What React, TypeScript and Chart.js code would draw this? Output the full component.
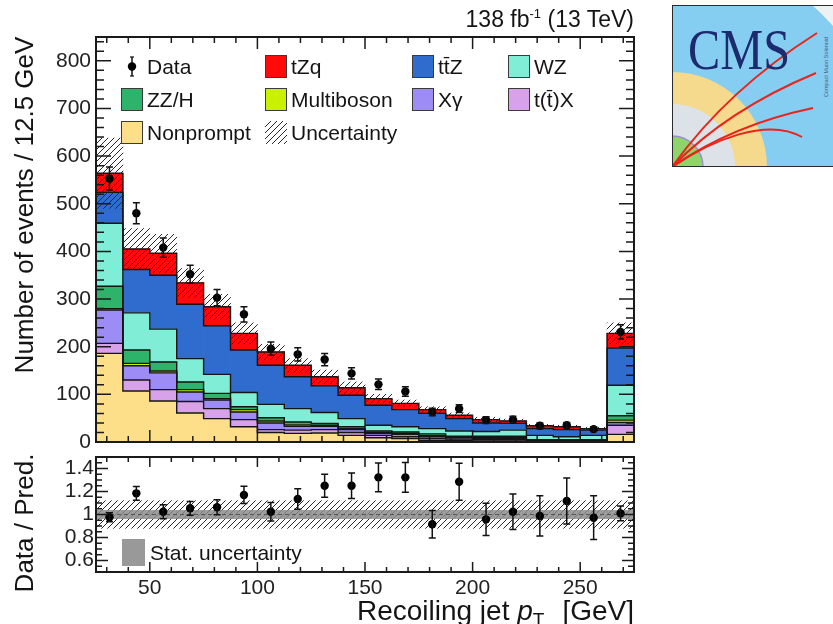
import React, { useEffect, useRef } from "react";
import { Chart, registerables, Plugin } from "chart.js";

Chart.register(...registerables);

const FONT = "'Liberation Sans', Arial, Helvetica, sans-serif";

// Recoiling jet pT binning (GeV)
const binEdges = [25, 37.5, 50, 62.5, 75, 87.5, 100, 112.5, 125, 137.5, 150, 162.5, 175, 187.5, 200, 212.5, 225, 237.5, 250, 262.5, 275];

// Predicted yields per bin, listed in stacking order (bottom first)
const nonprompt = [186, 107, 86, 61, 49, 32, 20, 18, 19, 14, 9, 7, 3, 3, 2, 2, 1, 1, 1, 16];
const ttX = [21, 23, 24, 24, 21, 15, 6, 7, 7, 6, 5, 4, 4, 3, 3, 3, 1, 1, 1, 19];
const xGamma = [70, 30, 35, 20, 18, 16, 14, 8, 7, 6, 4, 5, 4, 3, 3, 3, 1, 1, 1, 6];
const multiboson = [3, 5, 4, 5, 3, 5, 4, 3, 2, 2, 2, 2, 2, 1, 1, 1, 1, 1, 1, 5];
const zzH = [47, 28, 19, 16, 11, 6, 7, 6, 4, 4, 3, 3, 4, 2, 3, 3, 1, 1, 1, 9];
const wz = [132, 78, 69, 49, 40, 30, 28, 28, 23, 17, 12, 11, 11, 11, 10, 13, 9, 6, 9, 64];
const ttZ = [65, 91, 113, 114, 102, 89, 82, 67, 56, 49, 42, 36, 32, 26, 18, 14, 14, 15, 11, 78];
const tZq = [40, 43, 46, 45, 40, 35, 28, 24, 19, 16, 14, 13, 8, 7, 7, 5, 6, 6, 3, 31];

// Total prediction uncertainty (events, symmetric)
const predUnc = [74, 43, 40, 30, 26, 22, 16, 14, 14, 12, 9, 7, 6, 5, 5, 4, 3, 3, 3, 22];

// Observed events and their uncertainties
const dataCounts = [553, 480, 408, 352, 303, 268, 196, 184, 173, 144, 121, 106, 63, 70, 46, 47, 34, 35, 27, 231];
const dataErr = [24, 22, 20, 19, 17, 16, 14, 14, 13, 12, 11, 10, 8, 8, 7, 7, 6, 6, 5, 15];

// Data / prediction ratio
const ratioValues = [0.976, 1.184, 1.024, 1.054, 1.063, 1.17, 1.024, 1.135, 1.25, 1.25, 1.323, 1.323, 0.915, 1.285, 0.958, 1.024, 0.987, 1.117, 0.972, 1.01];
const ratioErr = [0.04, 0.06, 0.06, 0.06, 0.065, 0.075, 0.08, 0.09, 0.1, 0.11, 0.125, 0.13, 0.12, 0.16, 0.14, 0.155, 0.175, 0.2, 0.19, 0.065];
const ratioTotalBand = [0.12, 0.12, 0.12, 0.12, 0.12, 0.12, 0.12, 0.12, 0.12, 0.12, 0.12, 0.12, 0.12, 0.12, 0.12, 0.12, 0.12, 0.12, 0.12, 0.12];
const ratioStatBand = [0.036, 0.036, 0.036, 0.036, 0.036, 0.036, 0.036, 0.036, 0.036, 0.036, 0.036, 0.036, 0.036, 0.036, 0.036, 0.036, 0.036, 0.036, 0.036, 0.036];

// Axis ticks
const xTickValues = [50, 100, 150, 200, 250];
const mainYTicks = [0, 100, 200, 300, 400, 500, 600, 700, 800];
const ratioYTicks = [0.6, 0.8, 1, 1.2, 1.4];
const ratioYTickLabels = ["0.6", "0.8", "1", "1.2", "1.4"];

// Process names and colours
const processLabels = ["Nonprompt", "t(t\u0304)X", "X\u03b3", "Multiboson", "ZZ/H", "WZ", "tt\u0304Z", "tZq"];
const processColors = ["#fddf8a", "#d8a2ea", "#9d8bf6", "#c8f000", "#2db46a", "#80eed6", "#2f6ccd", "#ff0a0a"];
const processYields = [nonprompt, ttX, xGamma, multiboson, zzH, wz, ttZ, tZq];

const binCenters = binEdges.slice(0, -1).map((lo, i) => (lo + binEdges[i + 1]) / 2);

function makeHatch(color: string, size: number, lineWidth: number): CanvasPattern | string {
  const c = document.createElement("canvas");
  c.width = size;
  c.height = size;
  const g = c.getContext("2d");
  if (!g) return color;
  g.strokeStyle = color;
  g.lineWidth = lineWidth;
  g.beginPath();
  g.moveTo(0, size);
  g.lineTo(size, 0);
  g.moveTo(-1, 1);
  g.lineTo(1, -1);
  g.moveTo(size - 1, size + 1);
  g.lineTo(size + 1, size - 1);
  g.stroke();
  return g.createPattern(c, "repeat") || color;
}

type TickSpec = {
  xMajor: number[];
  xMinorStep: number;
  yMajor: number[];
  yMinorStep: number;
  xMajorLen: number;
  xMinorLen: number;
  yMajorLen: number;
  yMinorLen: number;
};

function frameTicks(spec: TickSpec): Plugin {
  return {
    id: "frameTicks",
    afterDraw(chart) {
      const { ctx, chartArea: a } = chart;
      const sx: any = chart.scales.x;
      const sy: any = chart.scales.y;
      ctx.save();
      ctx.strokeStyle = "#1a1a1a";
      ctx.lineWidth = 1.5;
      ctx.beginPath();
      const nx0 = Math.ceil(sx.min / spec.xMinorStep - 1e-9);
      const nx1 = Math.floor(sx.max / spec.xMinorStep + 1e-9);
      for (let n = nx0; n <= nx1; n++) {
        const v = n * spec.xMinorStep;
        const major = spec.xMajor.some((m) => Math.abs(m - v) < 1e-6);
        const len = major ? spec.xMajorLen : spec.xMinorLen;
        const px = sx.getPixelForValue(v);
        ctx.moveTo(px, a.bottom);
        ctx.lineTo(px, a.bottom - len);
        ctx.moveTo(px, a.top);
        ctx.lineTo(px, a.top + len);
      }
      const ny0 = Math.ceil(sy.min / spec.yMinorStep - 1e-9);
      const ny1 = Math.floor(sy.max / spec.yMinorStep + 1e-9);
      for (let n = ny0; n <= ny1; n++) {
        const v = n * spec.yMinorStep;
        const major = spec.yMajor.some((m) => Math.abs(m - v) < 1e-6);
        const len = major ? spec.yMajorLen : spec.yMinorLen;
        const py = sy.getPixelForValue(v);
        ctx.moveTo(a.left, py);
        ctx.lineTo(a.left + len, py);
        ctx.moveTo(a.right, py);
        ctx.lineTo(a.right - len, py);
      }
      ctx.stroke();
      ctx.lineWidth = 2;
      ctx.strokeRect(a.left, a.top, a.right - a.left, a.bottom - a.top);
      ctx.restore();
    },
  };
}

function errorBars(xs: number[], ys: number[], errs: number[], cap: number): Plugin {
  return {
    id: "errorBars",
    afterDatasetsDraw(chart) {
      const { ctx, chartArea: a } = chart;
      const sx: any = chart.scales.x;
      const sy: any = chart.scales.y;
      ctx.save();
      ctx.beginPath();
      ctx.rect(a.left, a.top, a.right - a.left, a.bottom - a.top);
      ctx.clip();
      ctx.strokeStyle = "#111";
      ctx.lineWidth = 1.5;
      ctx.beginPath();
      xs.forEach((x, i) => {
        const px = sx.getPixelForValue(x);
        const top = sy.getPixelForValue(ys[i] + errs[i]);
        const bot = sy.getPixelForValue(ys[i] - errs[i]);
        ctx.moveTo(px, top);
        ctx.lineTo(px, bot);
        ctx.moveTo(px - cap, top);
        ctx.lineTo(px + cap, top);
        ctx.moveTo(px - cap, bot);
        ctx.lineTo(px + cap, bot);
      });
      ctx.stroke();
      ctx.restore();
    },
  };
}

const tickFont = { family: FONT, size: 21 };

// fix a scale's thickness and drop the label overhang padding Chart.js adds
function fixSize(prop: "width" | "height", size: number) {
  return (s: any) => {
    s[prop] = size;
    s.paddingTop = 0;
    s.paddingBottom = 0;
    s.paddingLeft = 0;
    s.paddingRight = 0;
  };
}

function buildMain(canvas: HTMLCanvasElement): Chart {
  const hatch = makeHatch("#2a2a2a", 6, 1);
  const datasets: any[] = [];
  const cumulative: number[][] = [];
  let running = binCenters.map(() => 0);
  processYields.forEach((vals, k) => {
    const lo = running.slice();
    const hi = running.map((r, i) => r + vals[i]);
    cumulative.push(hi);
    datasets.push({
      type: "bar",
      label: processLabels[k],
      data: binCenters.map((c, i) => ({ x: c, y: [lo[i], hi[i]] })),
      backgroundColor: processColors[k],
      borderWidth: 0,
      grouped: false,
      barPercentage: 1,
      categoryPercentage: 1,
      order: 20,
    });
    running = hi;
  });
  // black outline of each stacked contribution
  cumulative.forEach((hi) => {
    datasets.push({
      type: "line",
      data: [...binEdges.slice(0, -1).map((e, i) => ({ x: e, y: hi[i] })), { x: binEdges[binEdges.length - 1], y: hi[hi.length - 1] }],
      borderColor: "#151515",
      borderWidth: 1.4,
      stepped: "before",
      pointRadius: 0,
      fill: false,
      order: 10,
    });
  });
  const total = running;
  datasets.push({
    type: "bar",
    label: "Uncertainty",
    data: binCenters.map((c, i) => ({ x: c, y: [total[i] - predUnc[i], total[i] + predUnc[i]] })),
    backgroundColor: hatch,
    borderWidth: 0,
    grouped: false,
    barPercentage: 1,
    categoryPercentage: 1,
    order: 5,
  });
  datasets.push({
    type: "line",
    label: "Data",
    data: binCenters.map((c, i) => ({ x: c, y: dataCounts[i] })),
    showLine: false,
    pointRadius: 4.2,
    pointBackgroundColor: "#000",
    pointBorderWidth: 0,
    order: 1,
  });

  return new Chart(canvas, {
    type: "bar",
    data: { datasets },
    options: {
      animation: false,
      responsive: false,
      devicePixelRatio: 1,
      events: [],
      layout: { padding: { left: 0, top: 37, right: 199, bottom: 8 } },
      plugins: { legend: { display: false }, tooltip: { enabled: false } },
      scales: {
        x: {
          type: "linear",
          min: binEdges[0],
          max: binEdges[binEdges.length - 1],
          offset: false,
          grid: { display: false, drawTicks: false, offset: false },
          border: { display: false },
          ticks: { display: false },
          afterFit: fixSize("height", 0),
        },
        y: {
          type: "linear",
          min: 0,
          max: 850,
          grid: { display: false, drawTicks: false },
          border: { display: false },
          ticks: { font: tickFont, color: "#222", padding: 5, autoSkip: false },
          afterBuildTicks: (s: any) => {
            s.ticks = mainYTicks.map((v) => ({ value: v }));
          },
          afterFit: fixSize("width", 96),
        },
      } as any,
    },
    plugins: [
      errorBars(binCenters, dataCounts, dataErr, 3.5),
      frameTicks({ xMajor: xTickValues, xMinorStep: 10, yMajor: mainYTicks, yMinorStep: 20, xMajorLen: 12, xMinorLen: 6, yMajorLen: 15, yMinorLen: 8 }),
    ],
  } as any);
}

function buildRatio(canvas: HTMLCanvasElement): Chart {
  const hatch = makeHatch("#2a2a2a", 6, 1);
  const datasets: any[] = [
    {
      type: "bar",
      data: binCenters.map((c, i) => ({ x: c, y: [1 - ratioTotalBand[i], 1 + ratioTotalBand[i]] })),
      backgroundColor: hatch,
      borderWidth: 0,
      grouped: false,
      barPercentage: 1,
      categoryPercentage: 1,
      order: 20,
    },
    {
      type: "bar",
      data: binCenters.map((c, i) => ({ x: c, y: [1 - ratioStatBand[i], 1 + ratioStatBand[i]] })),
      backgroundColor: "rgba(140,140,140,0.85)",
      borderWidth: 0,
      grouped: false,
      barPercentage: 1,
      categoryPercentage: 1,
      order: 15,
    },
    {
      type: "line",
      data: [
        { x: binEdges[0], y: 1 },
        { x: binEdges[binEdges.length - 1], y: 1 },
      ],
      borderColor: "#555",
      borderWidth: 1.2,
      borderDash: [4, 3],
      pointRadius: 0,
      fill: false,
      order: 10,
    },
    {
      type: "line",
      data: binCenters.map((c, i) => ({ x: c, y: ratioValues[i] })),
      showLine: false,
      pointRadius: 4.2,
      pointBackgroundColor: "#000",
      pointBorderWidth: 0,
      order: 1,
    },
  ];

  return new Chart(canvas, {
    type: "bar",
    data: { datasets },
    options: {
      animation: false,
      responsive: false,
      devicePixelRatio: 1,
      events: [],
      layout: { padding: { left: 0, top: 7, right: 199, bottom: 22 } },
      plugins: { legend: { display: false }, tooltip: { enabled: false } },
      scales: {
        x: {
          type: "linear",
          min: binEdges[0],
          max: binEdges[binEdges.length - 1],
          offset: false,
          grid: { display: false, drawTicks: false, offset: false },
          border: { display: false },
          ticks: { font: tickFont, color: "#222", padding: 4, maxRotation: 0, autoSkip: false },
          afterBuildTicks: (s: any) => {
            s.ticks = xTickValues.map((v) => ({ value: v }));
          },
          afterFit: fixSize("height", 30),
        },
        y: {
          type: "linear",
          min: 0.5,
          max: 1.5,
          grid: { display: false, drawTicks: false },
          border: { display: false },
          ticks: {
            font: tickFont,
            color: "#222",
            padding: 2,
            autoSkip: false,
            callback: (_v: any, idx: number) => ratioYTickLabels[idx],
          },
          afterBuildTicks: (s: any) => {
            s.ticks = ratioYTicks.map((v) => ({ value: v }));
          },
          afterFit: fixSize("width", 96),
        },
      } as any,
    },
    plugins: [
      errorBars(binCenters, ratioValues, ratioErr, 3.5),
      frameTicks({ xMajor: xTickValues, xMinorStep: 10, yMajor: ratioYTicks, yMinorStep: 0.05, xMajorLen: 10, xMinorLen: 5, yMajorLen: 12, yMinorLen: 6 }),
    ],
  } as any);
}

const legendCols = [121, 265, 412, 508];
const legendRows = [55, 88, 121];

function LegendBox({ left, top, color }: { left: number; top: number; color: string }) {
  return (
    <div
      style={{
        position: "absolute",
        left,
        top,
        width: 20,
        height: 21,
        background: color,
        border: "1px solid #3a3a3a",
      }}
    />
  );
}

function LegendText({ left, top, text }: { left: number; top: number; text: React.ReactNode }) {
  return (
    <div
      style={{
        position: "absolute",
        left,
        top,
        height: 23,
        lineHeight: "23px",
        fontSize: 21,
        fontFamily: FONT,
        color: "#141414",
        whiteSpace: "nowrap",
      }}
    >
      {text}
    </div>
  );
}

function RotatedTitle({ cx, cy, text, size }: { cx: number; cy: number; text: string; size: number }) {
  const w = 420;
  const h = 32;
  return (
    <div
      style={{
        position: "absolute",
        left: cx - w / 2,
        top: cy - h / 2,
        width: w,
        height: h,
        lineHeight: h + "px",
        fontSize: size,
        fontFamily: FONT,
        color: "#141414",
        textAlign: "center",
        whiteSpace: "nowrap",
        transform: "rotate(-90deg)",
      }}
    >
      {text}
    </div>
  );
}

function CmsLogo() {
  return (
    <svg style={{ position: "absolute", left: 672, top: 5 }} width={161} height={162} viewBox="0 0 161 162">
      <rect x={0} y={0} width={161} height={162} fill="#eef1f2" />
      <circle cx={0} cy={162} r={214} fill="#86cdf2" />
      <circle cx={0} cy={162} r={95} fill="#f5d98c" />
      <circle cx={0} cy={162} r={63} fill="#dde2e8" />
      <circle cx={0} cy={162} r={31} fill="#8fd46a" stroke="#a08cd0" strokeWidth={1.5} />
      <g fill="none" stroke="#e8241c" strokeWidth={2}>
        <path d="M0,162 Q55,85 145,28" />
        <path d="M0,162 Q55,105 144,68" />
        <path d="M0,162 Q60,120 141,103" />
        <path d="M0,162 C40,135 95,112 130,132" />
      </g>
      <text x={16} y={64} fontFamily="'Liberation Serif', 'DejaVu Serif', serif" fontSize={56} fill="#1c2a6e" textLength={102} lengthAdjust="spacingAndGlyphs">
        CMS
      </text>
      <text transform="translate(156,62) rotate(-90)" fontFamily={FONT} fontSize={5.5} fill="#4a5a7a" textAnchor="middle">
        Compact Muon Solenoid
      </text>
      <rect x={0.5} y={0.5} width={170} height={161} fill="none" stroke="#2a2a2a" strokeWidth={1} />
    </svg>
  );
}

export default function App() {
  const mainRef = useRef<HTMLCanvasElement>(null);
  const ratioRef = useRef<HTMLCanvasElement>(null);

  useEffect(() => {
    if (!mainRef.current || !ratioRef.current) return;
    const main = buildMain(mainRef.current);
    const ratio = buildRatio(ratioRef.current);
    return () => {
      main.destroy();
      ratio.destroy();
    };
  }, []);

  const legendItems: { col: number; row: number; label: React.ReactNode; color: string }[] = [
    { col: 1, row: 0, label: processLabels[7], color: processColors[7] },
    { col: 2, row: 0, label: processLabels[6], color: processColors[6] },
    { col: 3, row: 0, label: processLabels[5], color: processColors[5] },
    { col: 0, row: 1, label: processLabels[4], color: processColors[4] },
    { col: 1, row: 1, label: processLabels[3], color: processColors[3] },
    { col: 2, row: 1, label: processLabels[2], color: processColors[2] },
    { col: 3, row: 1, label: processLabels[1], color: processColors[1] },
    { col: 0, row: 2, label: processLabels[0], color: processColors[0] },
  ];

  return (
    <div style={{ position: "absolute", left: 0, top: 0, width: 833, height: 624, background: "#fff", overflow: "hidden" }}>
      <canvas ref={mainRef} width={833} height={450} style={{ position: "absolute", left: 0, top: 0, display: "block" }} />
      <canvas ref={ratioRef} width={833} height={174} style={{ position: "absolute", left: 0, top: 450, display: "block" }} />

      {/* luminosity label */}
      <div
        style={{
          position: "absolute",
          left: 0,
          top: 6,
          width: 634,
          textAlign: "right",
          fontSize: 23,
          lineHeight: "26px",
          fontFamily: FONT,
          color: "#141414",
          whiteSpace: "nowrap",
        }}
      >
        138 fb<span style={{ fontSize: 13, position: "relative", top: -9 }}>-1</span> (13 TeV)
      </div>

      {/* legend of the main panel */}
      <svg style={{ position: "absolute", left: legendCols[0], top: legendRows[0] }} width={22} height={23}>
        <line x1={11} y1={2} x2={11} y2={21} stroke="#111" strokeWidth={1.5} />
        <line x1={9} y1={2} x2={13} y2={2} stroke="#111" strokeWidth={1.2} />
        <line x1={9} y1={21} x2={13} y2={21} stroke="#111" strokeWidth={1.2} />
        <circle cx={11} cy={11.5} r={4.2} fill="#000" />
      </svg>
      <LegendText left={legendCols[0] + 26} top={legendRows[0]} text="Data" />
      {legendItems.map((it, i) => (
        <React.Fragment key={i}>
          <LegendBox left={legendCols[it.col]} top={legendRows[it.row]} color={it.color} />
          <LegendText left={legendCols[it.col] + 26} top={legendRows[it.row]} text={it.label} />
        </React.Fragment>
      ))}
      <svg style={{ position: "absolute", left: legendCols[1], top: legendRows[2] }} width={22} height={23}>
        <defs>
          <pattern id="legendHatch" width={6} height={6} patternUnits="userSpaceOnUse">
            <path d="M0,6 L6,0 M-1,1 L1,-1 M5,7 L7,5" stroke="#2a2a2a" strokeWidth={1} />
          </pattern>
        </defs>
        <rect x={0} y={0} width={22} height={23} fill="url(#legendHatch)" />
      </svg>
      <LegendText left={legendCols[1] + 26} top={legendRows[2]} text="Uncertainty" />

      {/* legend of the ratio panel */}
      <div style={{ position: "absolute", left: 122, top: 539, width: 23, height: 27, background: "#999" }} />
      <LegendText left={150} top={541} text="Stat. uncertainty" />

      {/* axis titles */}
      <RotatedTitle cx={24} cy={205} text="Number of events / 12.5 GeV" size={26} />
      <RotatedTitle cx={24} cy={523} text="Data / Pred." size={26} />
      <div
        style={{
          position: "absolute",
          left: 0,
          top: 594,
          width: 634,
          textAlign: "right",
          fontSize: 28,
          lineHeight: "34px",
          fontFamily: FONT,
          color: "#141414",
          whiteSpace: "nowrap",
        }}
      >
        Recoiling jet <i>p</i>
        <span style={{ fontSize: 19, position: "relative", top: 6 }}>T</span>
        <span style={{ marginLeft: 18 }}>[GeV]</span>
      </div>

      <CmsLogo />
    </div>
  );
}
